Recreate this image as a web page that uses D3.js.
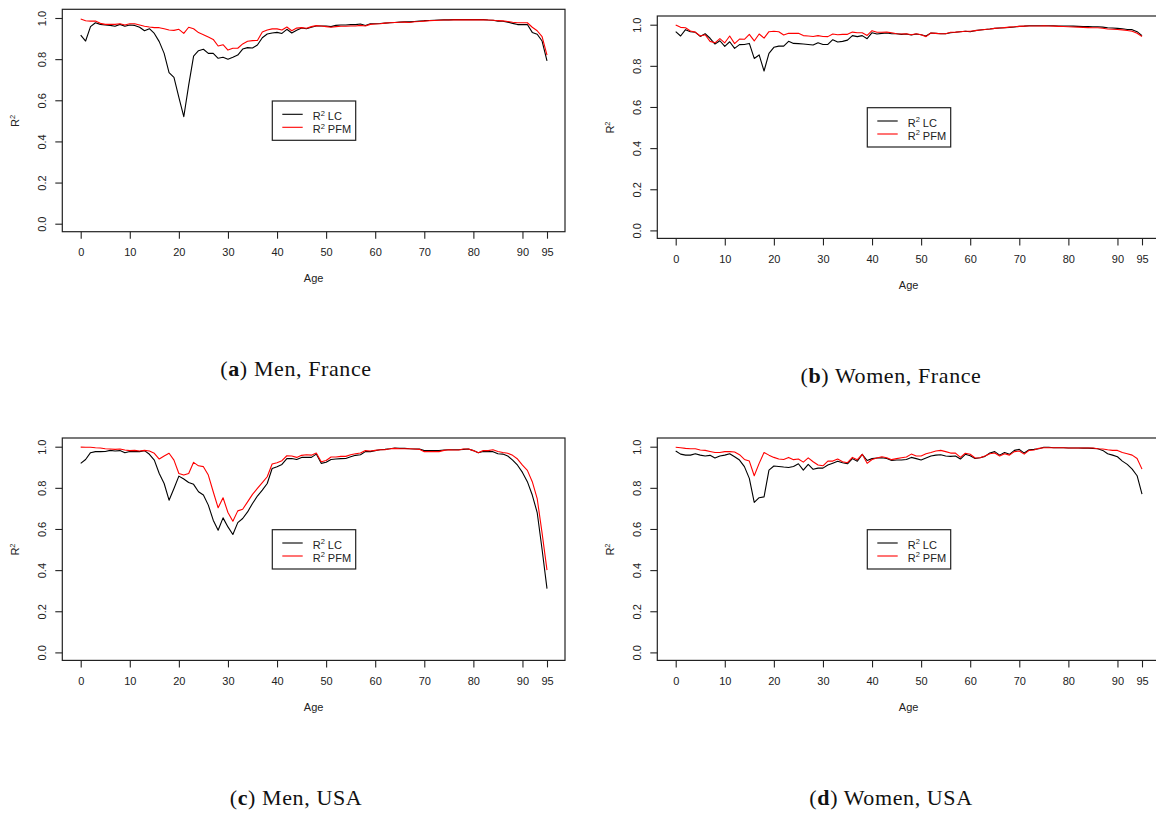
<!DOCTYPE html>
<html>
<head>
<meta charset="utf-8">
<script src="https://cdn.jsdelivr.net/npm/d3@7/dist/d3.min.js"></script>
<style>
  html, body { margin: 0; padding: 0; background: #fff; }
  svg { display: block; }
  .ax text { font-family: "Liberation Sans", Arial, Helvetica, sans-serif; font-size: 11px; fill: #222; }
  .cap { font-family: "Liberation Serif", "Times New Roman", serif; font-size: 22px; fill: #111; }
</style>
</head>
<body>
<svg id="chart" width="1156" height="813"></svg>
<script>
// ---------------- data ----------------
const ages = d3.range(0, 96);
const xTickValues = [0, 10, 20, 30, 40, 50, 60, 70, 80, 90, 95];
const yTickValues = [0, 0.2, 0.4, 0.6, 0.8, 1.0];
const seriesNames = ["R² LC", "R² PFM"];
const captionLetters = ["a", "b", "c", "d"];
const captionTexts = ["Men, France", "Women, France", "Men, USA", "Women, USA"];

const menFranceLC = [
  .917,.888,.958,.977,.969,.966,.964,.960,.969,.960,
  .966,.964,.955,.938,.948,.925,.885,.828,.734,.711,
  .614,.520,.674,.815,.841,.848,.828,.828,.804,.809,
  .800,.809,.820,.849,.856,.854,.869,.904,.922,.927,
  .930,.925,.945,.927,.940,.951,.948,.955,.961,.961,
  .961,.958,.964,.966,.966,.968,.968,.971,.964,.972,
  .972,.973,.975,.977,.978,.980,.981,.981,.983,.985,
  .987,.988,.989,.990,.991,.991,.992,.992,.992,.992,
  .992,.992,.992,.990,.989,.985,.984,.980,.974,.968,
  .968,.968,.930,.921,.888,.791];
const menFrancePFM = [
  .995,.987,.985,.985,.974,.969,.969,.969,.972,.966,
  .972,.972,.966,.960,.956,.953,.953,.948,.942,.940,
  .945,.925,.955,.948,.929,.919,.908,.896,.864,.870,
  .844,.853,.853,.874,.887,.890,.891,.932,.942,.947,
  .947,.942,.956,.938,.951,.953,.950,.958,.963,.961,
  .958,.955,.958,.960,.960,.961,.961,.964,.961,.969,
  .971,.972,.975,.977,.978,.979,.980,.978,.982,.983,
  .985,.987,.988,.989,.990,.990,.991,.991,.991,.991,
  .991,.991,.991,.990,.989,.987,.986,.983,.979,.977,
  .977,.977,.955,.938,.909,.820];

const womenFranceLC = [
  .966,.945,.976,.966,.963,.943,.956,.934,.906,.922,
  .895,.917,.885,.903,.904,.909,.836,.853,.775,.861,
  .890,.896,.896,.919,.909,.908,.906,.904,.901,.912,
  .904,.904,.927,.916,.919,.925,.947,.942,.947,.932,
  .961,.955,.958,.960,.956,.956,.953,.955,.950,.955,
  .951,.945,.960,.958,.956,.956,.961,.963,.966,.968,
  .966,.971,.974,.977,.979,.982,.984,.985,.987,.989,
  .992,.993,.995,.995,.995,.995,.995,.995,.994,.994,
  .994,.993,.992,.991,.991,.990,.990,.988,.985,.984,
  .982,.980,.977,.976,.966,.947];
const womenFrancePFM = [
  .998,.987,.985,.969,.964,.945,.951,.919,.912,.932,
  .912,.945,.908,.930,.929,.953,.921,.955,.935,.966,
  .968,.966,.950,.958,.958,.958,.947,.945,.943,.947,
  .943,.942,.955,.951,.953,.953,.964,.961,.961,.948,
  .971,.963,.963,.964,.961,.956,.955,.956,.951,.956,
  .951,.942,.960,.958,.956,.956,.963,.964,.966,.968,
  .968,.971,.974,.977,.979,.982,.984,.986,.988,.990,
  .992,.993,.994,.994,.994,.995,.994,.993,.992,.991,
  .990,.989,.988,.987,.986,.985,.985,.983,.979,.978,
  .977,.975,.972,.968,.958,.943];

const menUSALC = [
  .919,.938,.971,.976,.976,.977,.982,.979,.981,.971,
  .977,.976,.976,.981,.963,.935,.870,.821,.740,.797,
  .857,.843,.826,.817,.781,.765,.716,.643,.594,.654,
  .610,.573,.631,.651,.683,.724,.760,.789,.821,.894,
  .903,.914,.942,.943,.938,.948,.948,.948,.964,.919,
  .924,.938,.940,.942,.943,.951,.958,.961,.976,.976,
  .981,.985,.987,.990,.994,.992,.992,.990,.989,.989,
  .981,.981,.981,.981,.984,.985,.985,.985,.987,.989,
  .981,.971,.977,.976,.976,.966,.964,.955,.935,.910,
  .875,.830,.765,.680,.500,.310];
const menUSAPFM = [
  .998,.997,.997,.995,.994,.990,.989,.987,.989,.984,
  .981,.982,.979,.982,.979,.968,.940,.955,.968,.935,
  .870,.862,.870,.924,.907,.903,.862,.781,.703,.752,
  .680,.638,.688,.696,.732,.768,.797,.825,.854,.916,
  .922,.932,.956,.955,.948,.958,.961,.959,.969,.927,
  .933,.950,.950,.953,.953,.961,.966,.969,.981,.979,
  .982,.985,.985,.990,.992,.990,.990,.990,.989,.987,
  .976,.977,.976,.976,.982,.985,.984,.984,.989,.989,
  .981,.971,.981,.981,.985,.977,.972,.968,.958,.940,
  .910,.885,.830,.748,.580,.400];

const womenUSALC = [
  .979,.964,.959,.959,.966,.959,.955,.958,.945,.955,
  .959,.966,.951,.935,.903,.846,.729,.752,.756,.886,
  .906,.904,.901,.899,.904,.917,.886,.914,.890,.896,
  .896,.911,.920,.929,.922,.917,.942,.929,.963,.933,
  .942,.945,.946,.943,.933,.935,.935,.938,.948,.942,
  .935,.945,.955,.959,.961,.955,.953,.955,.940,.963,
  .956,.943,.946,.953,.969,.976,.959,.972,.963,.982,
  .987,.969,.985,.987,.990,.997,.997,.995,.995,.995,
  .994,.994,.994,.993,.993,.992,.990,.982,.966,.959,
  .951,.930,.914,.891,.859,.769];
const womenUSAPFM = [
  .997,.995,.992,.990,.990,.984,.982,.977,.972,.972,
  .976,.976,.974,.961,.938,.930,.859,.919,.972,.959,
  .948,.940,.938,.948,.937,.940,.925,.946,.927,.911,
  .907,.930,.930,.940,.927,.922,.948,.937,.963,.919,
  .938,.945,.951,.946,.937,.942,.946,.950,.964,.955,
  .955,.966,.972,.979,.982,.976,.969,.969,.948,.968,
  .963,.945,.946,.955,.966,.969,.955,.966,.959,.976,
  .979,.964,.982,.984,.992,.995,.995,.995,.995,.995,
  .994,.994,.994,.994,.994,.994,.990,.989,.985,.982,
  .982,.972,.966,.959,.943,.891];

const panelLC = [menFranceLC, womenFranceLC, menUSALC, womenUSALC];
const panelPFM = [menFrancePFM, womenFrancePFM, menUSAPFM, womenUSAPFM];

// ---------------- layout ----------------
const offsets = [[0, 0], [595, 6.7], [0, 428.7], [595, 428.7]];
const captionPos = [[296, 376], [891, 383], [296, 805], [891, 805]];
const box = { x0: 62.3, x1: 565, y0: 9.3, y1: 231.7 };
const colors = ["#000000", "#ff0000"];

const svg = d3.select("#chart");
svg.append("rect").attr("width", 1156).attr("height", 813).attr("fill", "#fff");

const x = d3.scaleLinear().domain([0, 95]).range([80.7, 547]);
const y = d3.scaleLinear().domain([0, 1]).range([223.7, 18]);

function drawPanel(i) {
  const g = svg.append("g").attr("transform", `translate(${offsets[i][0]},${offsets[i][1]})`);

  // lines
  const line = d3.line().x((d, k) => x(ages[k])).y(d => y(d));
  [panelLC[i], panelPFM[i]].forEach((vals, s) => {
    g.append("path").datum(vals)
      .attr("d", line)
      .attr("fill", "none")
      .attr("stroke", colors[s])
      .attr("stroke-width", 1.1)
      .attr("stroke-linejoin", "round");
  });

  // box
  g.append("rect")
    .attr("x", box.x0).attr("y", box.y0)
    .attr("width", box.x1 - box.x0).attr("height", box.y1 - box.y0)
    .attr("fill", "none").attr("stroke", "#222").attr("stroke-width", 1.2);

  // x axis
  const xAxis = g.append("g").attr("class", "ax")
    .attr("transform", `translate(0,${box.y1})`)
    .call(d3.axisBottom(x).tickValues(xTickValues).tickFormat(d3.format("d"))
      .tickSize(7).tickSizeOuter(0).tickPadding(9.5));
  xAxis.select(".domain").remove();
  xAxis.selectAll(".tick line").attr("stroke", "#222").attr("stroke-width", 1.1);

  // y axis
  const yAxis = g.append("g").attr("class", "ax")
    .attr("transform", `translate(${box.x0},0)`)
    .call(d3.axisLeft(y).tickValues(yTickValues).tickFormat(d3.format(".1f"))
      .tickSize(7).tickSizeOuter(0));
  yAxis.select(".domain").remove();
  yAxis.selectAll(".tick line").attr("stroke", "#222").attr("stroke-width", 1.1);
  yAxis.selectAll(".tick text")
    .attr("x", 0).attr("dy", null).attr("y", -16.3)
    .attr("text-anchor", "middle")
    .attr("transform", "rotate(-90)");

  // axis titles
  const ageT = g.append("g").attr("class", "ax");
  ageT.append("text").attr("x", (box.x0 + box.x1) / 2).attr("y", 282)
    .attr("text-anchor", "middle").text("Age");
  const rT = g.append("g").attr("class", "ax")
    .attr("transform", `translate(19,${(y(0) + y(1)) / 2}) rotate(-90)`);
  const rt = rT.append("text").attr("text-anchor", "middle");
  rt.append("tspan").text("R");
  rt.append("tspan").attr("dy", -4).style("font-size", "7.5px").text("2");

  // legend
  const lg = g.append("g").attr("class", "ax");
  lg.append("rect").attr("x", 272.3).attr("y", 101).attr("width", 83.4).attr("height", 39.3)
    .attr("fill", "#fff").attr("stroke", "#222").attr("stroke-width", 1.2);
  seriesNames.forEach((nm, s) => {
    const ly = 114.3 + s * 13;
    lg.append("line").attr("x1", 282.3).attr("x2", 302.7).attr("y1", ly).attr("y2", ly)
      .attr("stroke", colors[s]).attr("stroke-width", 1.1);
    const t = lg.append("text").attr("x", 312.7).attr("y", ly + 5.7);
    const parts = nm.split("²");
    t.append("tspan").text(parts[0]);
    t.append("tspan").attr("dy", -4.5).style("font-size", "7.5px").text("2");
    t.append("tspan").attr("dy", 4.5).text(parts[1]);
  });
}

for (let i = 0; i < 4; i++) drawPanel(i);

// captions
captionLetters.forEach((l, i) => {
  const t = svg.append("text").attr("class", "cap")
    .attr("x", captionPos[i][0]).attr("y", captionPos[i][1])
    .attr("text-anchor", "middle").style("letter-spacing", "0.6px");
  t.append("tspan").text("(");
  t.append("tspan").style("font-weight", "bold").text(l);
  t.append("tspan").text(") " + captionTexts[i]);
});
</script>
</body>
</html>
